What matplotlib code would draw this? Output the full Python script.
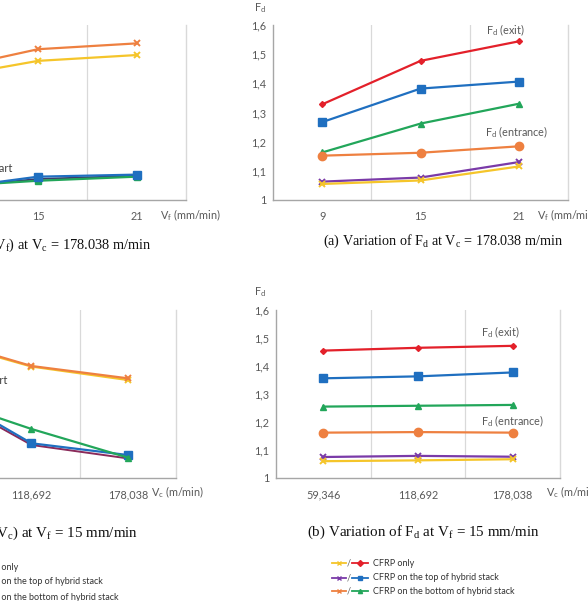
import matplotlib
matplotlib.use('Agg')
import matplotlib.pyplot as plt
from matplotlib.lines import Line2D

plt.rcParams['font.family'] = ['Lato', 'DejaVu Sans']
plt.rcParams['mathtext.fontset'] = 'custom'
plt.rcParams['mathtext.rm'] = 'Liberation Serif'
plt.rcParams['mathtext.sf'] = 'Lato'

W, H = 588, 601

# Data
vf_labels = ['9', '15', '21']
vc_labels = ['59,346', '118,692', '178,038']
y_ticks = [1.0, 1.1, 1.2, 1.3, 1.4, 1.5, 1.6]
y_ticklabels = ['1', '1,1', '1,2', '1,3', '1,4', '1,5', '1,6']

# (a) right panel: Fd vs Vf
a_exit_cfrp = [1.328, 1.477, 1.544]
a_exit_top = [1.267, 1.382, 1.406]
a_exit_bottom = [1.163, 1.262, 1.330]
a_ent_bottom = [1.152, 1.162, 1.184]
a_ent_top = [1.063, 1.077, 1.130]
a_ent_cfrp = [1.055, 1.067, 1.115]

# (a) left panel (partly cut off)
al_orange = [1.443, 1.517, 1.537]
al_yellow = [1.417, 1.477, 1.497]
al_blue = [1.035, 1.080, 1.087]
al_green = [1.045, 1.066, 1.080]
al_dark = [1.040, 1.072, 1.083]

# (b) right panel: Fd vs Vc
b_exit_cfrp = [1.455, 1.465, 1.472]
b_exit_top = [1.356, 1.363, 1.377]
b_exit_bottom = [1.255, 1.258, 1.261]
b_ent_bottom = [1.162, 1.164, 1.162]
b_ent_top = [1.075, 1.079, 1.076]
b_ent_cfrp = [1.060, 1.063, 1.067]

# (b) left panel (partly cut off)
bl_orange = [1.501, 1.400, 1.356]
bl_yellow = [1.495, 1.398, 1.350]
bl_green = [1.291, 1.175, 1.073]
bl_blue = [1.323, 1.124, 1.082]
bl_red = [1.310, 1.118, 1.070]

legend_labels = ['CFRP only', 'CFRP on the top of hybrid stack',
                 'CFRP on the bottom of hybrid stack']

RED = '#e3202a'
BLUE = '#1f6fc0'
GREEN = '#22a65a'
ORANGE = '#ee8040'
PURPLE = '#7a3aa8'
YELLOW = '#f5c52a'
GRID = '#d9d9d9'
AXC = '#a6a6a6'
TXT = '#595959'
LBL = 7.8


def fx(x):
    return x / W


def fy(y):
    return 1 - y / H


fig = plt.figure(figsize=(W / 100, H / 100), dpi=100)


def make_axes(x0, x1, ytop, ybot, xlabels, show_y=True):
    ax = fig.add_axes([fx(x0), fy(ybot), (x1 - x0) / W, (ybot - ytop) / H])
    ax.set_xlim(-0.5, 2.5)
    ax.set_ylim(1, 1.6)
    ax.set_xticks(range(3))
    ax.set_xticklabels(xlabels)
    ax.set_yticks(y_ticks)
    ax.set_yticklabels(y_ticklabels)
    ax.tick_params(length=0, labelsize=LBL, colors=TXT, pad=5)
    ax.tick_params(axis='x', pad=8)
    if not show_y:
        ax.tick_params(axis='y', labelleft=False)
    ax.spines['top'].set_visible(False)
    ax.spines['right'].set_color(GRID)
    ax.spines['left'].set_color(AXC)
    ax.spines['bottom'].set_color(AXC)
    for s in ax.spines.values():
        s.set_linewidth(1)
    for xv in (0.5, 1.5):
        ax.axvline(xv, color=GRID, lw=0.9, zorder=0)
    return ax


def series(ax, vals, color, marker, ms, lw=1.6):
    ax.plot(range(3), vals, color=color, marker=marker, ms=ms, lw=lw,
            mec=color, mew=1.4 if marker == 'x' else 1)


# ---- top right (a)
ax1 = make_axes(273, 568, 25, 200, vf_labels)
series(ax1, a_exit_cfrp, RED, 'D', 3)
series(ax1, a_exit_top, BLUE, 's', 6)
series(ax1, a_exit_bottom, GREEN, '^', 5)
series(ax1, a_ent_bottom, ORANGE, 'o', 6)
series(ax1, a_ent_top, PURPLE, 'x', 4)
series(ax1, a_ent_cfrp, YELLOW, 'x', 4)
fig.text(fx(505), fy(30), r'F$_\mathsf{d}$ (exit)', fontsize=LBL, color=TXT,
         ha='center', va='center')
fig.text(fx(517), fy(132), r'F$_\mathsf{d}$ (entrance)', fontsize=LBL, color=TXT,
         ha='center', va='center')
fig.text(fx(537), fy(215), r'V$_\mathsf{f}$ (mm/min)', fontsize=LBL, color=TXT,
         ha='left', va='center')
fig.text(fx(260), fy(8), r'F$_\mathsf{d}$', fontsize=LBL, color=TXT,
         ha='center', va='center')

# ---- top left (cut off)
ax2 = make_axes(-110, 186, 25, 200, vf_labels, show_y=False)
series(ax2, al_dark, '#3c3c6a', 's', 0, lw=1.4)
series(ax2, al_green, GREEN, 's', 5)
series(ax2, al_blue, BLUE, 's', 6)
series(ax2, al_yellow, YELLOW, 'x', 4)
series(ax2, al_orange, ORANGE, 'x', 4)
fig.text(fx(13), fy(169), 'start', fontsize=8, color='#404040',
         ha='right', va='center')
fig.text(fx(160), fy(215), r'V$_\mathsf{f}$ (mm/min)', fontsize=LBL, color=TXT,
         ha='left', va='center')

# ---- bottom right (b)
ax3 = make_axes(276, 560, 310, 478, vc_labels)
series(ax3, b_exit_cfrp, RED, 'D', 3)
series(ax3, b_exit_top, BLUE, 's', 6)
series(ax3, b_exit_bottom, GREEN, '^', 5)
series(ax3, b_ent_bottom, ORANGE, 'o', 6)
series(ax3, b_ent_top, PURPLE, 'x', 4)
series(ax3, b_ent_cfrp, YELLOW, 'x', 4)
fig.text(fx(500), fy(332), r'F$_\mathsf{d}$ (exit)', fontsize=LBL, color=TXT,
         ha='center', va='center')
fig.text(fx(513), fy(421), r'F$_\mathsf{d}$ (entrance)', fontsize=LBL, color=TXT,
         ha='center', va='center')
fig.text(fx(546), fy(492), r'V$_\mathsf{c}$ (m/min)', fontsize=LBL, color=TXT,
         ha='left', va='center')
fig.text(fx(260), fy(292), r'F$_\mathsf{d}$', fontsize=LBL, color=TXT,
         ha='center', va='center')

# ---- bottom left (cut off)
ax4 = make_axes(-113, 176, 310, 478, vc_labels, show_y=False)
series(ax4, bl_red, '#8a2a5a', 'D', 0, lw=1.4)
series(ax4, bl_blue, BLUE, 's', 6)
series(ax4, bl_green, GREEN, '^', 5)
series(ax4, bl_yellow, YELLOW, 'x', 4)
series(ax4, bl_orange, ORANGE, 'x', 4)
fig.text(fx(8), fy(381), 'start', fontsize=8, color='#404040',
         ha='right', va='center')
fig.text(fx(151), fy(492), r'V$_\mathsf{c}$ (m/min)', fontsize=LBL, color=TXT,
         ha='left', va='center')

# ---- captions
cap = dict(family='Liberation Serif', color='#111111', va='center')
fig.text(fx(323), fy(241),
         r'(a) Variation of F$_\mathrm{d}$ at V$_\mathrm{c}$ = 178.038 m/min',
         ha='left', fontsize=10.2, **cap)
fig.text(fx(152), fy(245),
         r'(a) Variation of F$_\mathrm{t}$ (V$_\mathrm{f}$) at V$_\mathrm{c}$ = 178.038 m/min',
         ha='right', fontsize=10.4, **cap)
fig.text(fx(307), fy(532),
         r'(b) Variation of F$_\mathrm{d}$ at V$_\mathrm{f}$ = 15 mm/min',
         ha='left', fontsize=10.8, **cap)
fig.text(fx(138), fy(533),
         r'(b) Variation of F$_\mathrm{t}$ (V$_\mathrm{c}$) at V$_\mathrm{f}$ = 15 mm/min',
         ha='right', fontsize=10.8, **cap)

# ---- legend (right) drawn by hand
pairs = [((YELLOW, 'x'), (RED, 'D')),
         ((PURPLE, 'x'), (BLUE, 's')),
         ((ORANGE, 'x'), (GREEN, '^'))]
rows_r = [563, 578, 591]
for ((c1, m1), (c2, m2)), yy, lab in zip(pairs, rows_r, legend_labels):
    fig.add_artist(Line2D([fx(332), fx(346)], [fy(yy), fy(yy)], color=c1, lw=1.3))
    fig.add_artist(Line2D([fx(339)], [fy(yy)], color=c1, marker=m1, ms=3, mew=1))
    fig.text(fx(349), fy(yy), '/', fontsize=6.5, color=TXT, ha='center', va='center')
    fig.add_artist(Line2D([fx(352), fx(368)], [fy(yy), fy(yy)], color=c2, lw=1.3))
    fig.add_artist(Line2D([fx(360)], [fy(yy)], color=c2, marker=m2, ms=3, mec=c2))
    fig.text(fx(373), fy(yy), lab, fontsize=6.5, color='#333333', ha='left', va='center')

# legend (left, cut off)
rows_l = [568, 582, 597]
for yy, lab in zip(rows_l, legend_labels):
    fig.text(fx(-23), fy(yy), lab, fontsize=6.5, color='#333333', ha='left', va='center')

fig.savefig('out.png', dpi=100)
